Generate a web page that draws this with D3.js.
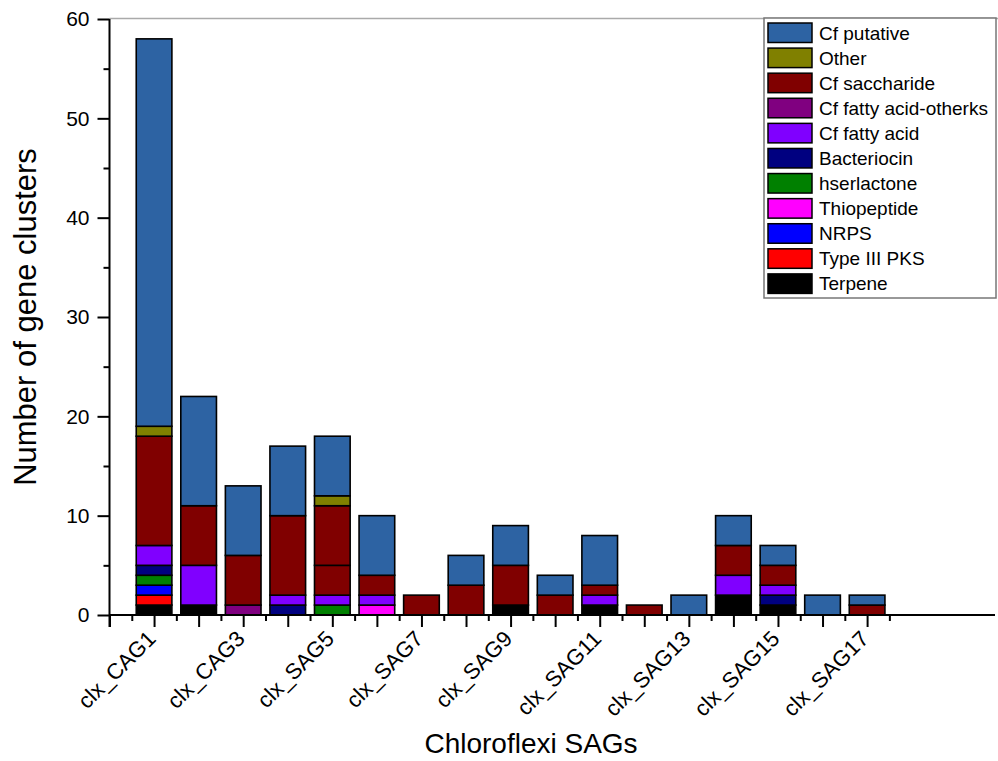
<!DOCTYPE html>
<html><head><meta charset="utf-8">
<script src="https://cdn.jsdelivr.net/npm/d3@7"></script>
<style>
body{margin:0;background:#fff;}
svg{font-family:"Liberation Sans",Arial,sans-serif;}
</style></head><body>
<svg id="c" width="998" height="761"></svg>
<script>
const categories = ["clx_CAG1","clx_CAG2","clx_CAG3","clx_SAG4","clx_SAG5","clx_SAG6","clx_SAG7","clx_SAG8","clx_SAG9","clx_SAG10","clx_SAG11","clx_SAG12","clx_SAG13","clx_SAG14","clx_SAG15","clx_SAG16","clx_SAG17"];
const shownLabels = ["clx_CAG1","clx_CAG3","clx_SAG5","clx_SAG7","clx_SAG9","clx_SAG11","clx_SAG13","clx_SAG15","clx_SAG17"];
const yTicks = [0,10,20,30,40,50,60];

const terpene        = [1,1,0,0,0,0,0,0,1,0,1,0,0,2,1,0,0];
const typeIIIPKS     = [1,0,0,0,0,0,0,0,0,0,0,0,0,0,0,0,0];
const nrps           = [1,0,0,0,0,0,0,0,0,0,0,0,0,0,0,0,0];
const thiopeptide    = [0,0,0,0,0,1,0,0,0,0,0,0,0,0,0,0,0];
const hserlactone    = [1,0,0,0,1,0,0,0,0,0,0,0,0,0,0,0,0];
const bacteriocin    = [1,0,0,1,0,0,0,0,0,0,0,0,0,0,1,0,0];
const cfFattyAcid    = [2,4,0,1,1,1,0,0,0,0,1,0,0,2,1,0,0];
const cfFattyOtherks = [0,0,1,0,0,0,0,0,0,0,0,0,0,0,0,0,0];
const cfSaccharideB  = [0,0,0,0,3,0,0,0,0,0,0,0,0,0,0,0,0];
const cfSaccharide   = [11,6,5,8,6,2,2,3,4,2,1,1,0,3,2,0,1];
const other          = [1,0,0,0,1,0,0,0,0,0,0,0,0,0,0,0,0];
const cfPutative     = [39,11,7,7,6,6,0,3,4,2,5,0,2,3,2,2,1];

// bottom-to-top stacking order
const series = [
  {name:"Terpene", values:terpene, color:"#000000", legend:true},
  {name:"Type III PKS", values:typeIIIPKS, color:"#FF0000", legend:true},
  {name:"NRPS", values:nrps, color:"#0000FF", legend:true},
  {name:"Thiopeptide", values:thiopeptide, color:"#FF00FF", legend:true},
  {name:"hserlactone", values:hserlactone, color:"#008000", legend:true},
  {name:"Bacteriocin", values:bacteriocin, color:"#000080", legend:true},
  {name:"Cf fatty acid", values:cfFattyAcid, color:"#8000FF", legend:true},
  {name:"Cf fatty acid-otherks", values:cfFattyOtherks, color:"#800080", legend:true},
  {name:"Cf saccharide (b)", values:cfSaccharideB, color:"#800000", legend:false},
  {name:"Cf saccharide", values:cfSaccharide, color:"#800000", legend:true},
  {name:"Other", values:other, color:"#808000", legend:true},
  {name:"Cf putative", values:cfPutative, color:"#2D63A3", legend:true}
];

const svg = d3.select("#c");
const x = d3.scaleLinear().domain([0, 19.87]).range([109.5, 995]);
const y = d3.scaleLinear().domain([0, 60]).range([615, 19]);

const table = categories.map((c,i)=>{const o={cat:c,pos:i+1}; series.forEach(s=>o[s.name]=s.values[i]); return o;});
const stack = d3.stack().keys(series.map(s=>s.name))(table);

// top frame line
svg.append("line").attr("x1",x(0)).attr("x2",998).attr("y1",y(60)-0.5).attr("y2",y(60)-0.5)
  .attr("stroke","#aaa").attr("stroke-width",1.5);

// bars
stack.forEach((layer,li)=>{
  svg.append("g").selectAll("rect").data(layer.filter(d=>d[1]-d[0]>0)).join("rect")
    .attr("x",d=>x(d.data.pos-0.4)).attr("width",d=>x(d.data.pos+0.4)-x(d.data.pos-0.4))
    .attr("y",d=>y(d[1])).attr("height",d=>y(d[0])-y(d[1]))
    .attr("fill",series[li].color).attr("stroke","#000").attr("stroke-width",1.6);
});

// axes
const xMajor = d3.range(0,18);
const xMinor = d3.range(0,18).map(v=>v+0.5);
const gx = svg.append("g").attr("transform",`translate(0,${y(0)})`)
  .call(d3.axisBottom(x).tickValues(xMajor).tickSize(12).tickFormat(""));
gx.select(".domain").remove();
svg.append("g").attr("transform",`translate(0,${y(0)})`)
  .call(d3.axisBottom(x).tickValues(xMinor).tickSize(6).tickFormat(""))
  .select(".domain").remove();
svg.append("line").attr("x1",x(0)).attr("x2",995).attr("y1",y(0)).attr("y2",y(0)).attr("stroke","#000").attr("stroke-width",2);

const gy = svg.append("g").attr("transform",`translate(${x(0)},0)`)
  .call(d3.axisLeft(y).tickValues(yTicks).tickSize(12).tickPadding(8));
gy.select(".domain").remove();
svg.append("g").attr("transform",`translate(${x(0)},0)`)
  .call(d3.axisLeft(y).tickValues([5,15,25,35,45,55]).tickSize(6).tickFormat(""))
  .select(".domain").remove();
svg.append("line").attr("x1",x(0)).attr("x2",x(0)).attr("y1",y(60)).attr("y2",y(0)+12).attr("stroke","#000").attr("stroke-width",2);
svg.selectAll(".tick line").attr("stroke","#000").attr("stroke-width",2);
gy.selectAll("text").attr("font-size",21).attr("fill","#000").attr("font-family","Liberation Sans, Arial, sans-serif");

// x tick labels
svg.append("g").selectAll("text").data(shownLabels).join("text")
  .attr("transform",d=>`translate(${x(categories.indexOf(d)+1)+3},${y(0)+25}) rotate(-45)`)
  .attr("text-anchor","end").attr("font-size",22).attr("fill","#000").text(d=>d);

// axis titles
svg.append("text").attr("x",531).attr("y",753).attr("text-anchor","middle")
  .attr("font-size",28).text("Chloroflexi SAGs");
svg.append("text").attr("transform",`translate(36,317) rotate(-90)`).attr("text-anchor","middle")
  .attr("font-size",31).text("Number of gene clusters");

// legend
const legendItems = series.filter(s=>s.legend).reverse();
const lg = svg.append("g");
lg.append("rect").attr("x",764).attr("y",18).attr("width",232).attr("height",280)
  .attr("fill","#fff").attr("stroke","#777").attr("stroke-width",1.5);
const ly = d3.scaleBand().domain(legendItems.map(s=>s.name)).range([20,296]);
legendItems.forEach(s=>{
  lg.append("rect").attr("x",768).attr("y",ly(s.name)+3).attr("width",44).attr("height",19.5)
    .attr("fill",s.color).attr("stroke","#000").attr("stroke-width",1.5);
  lg.append("text").attr("x",819).attr("y",ly(s.name)+19.5).attr("font-size",19).attr("fill","#000").text(s.name);
});
</script>
</body></html>
